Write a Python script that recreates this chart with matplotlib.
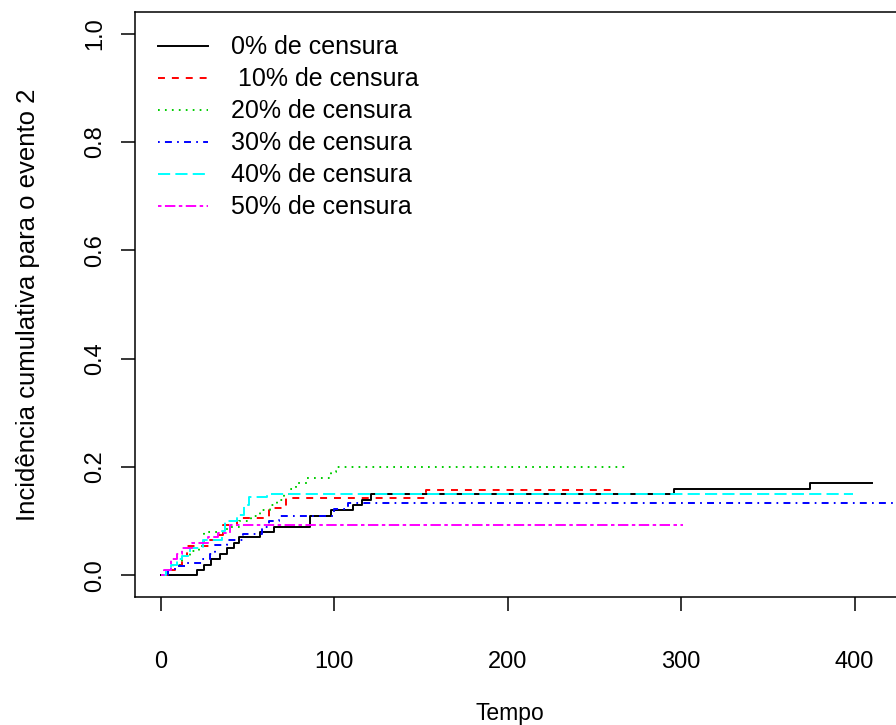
import matplotlib
matplotlib.use("Agg")
import matplotlib.pyplot as plt

plt.rcParams['font.family'] = ['Liberation Sans', 'DejaVu Sans']
plt.rcParams['lines.scale_dashes'] = False

# data (step functions: jump times and cumulative incidence after each jump)
labels = ["0% de censura", " 10% de censura", "20% de censura",
          "30% de censura", "40% de censura", "50% de censura"]
colors = ["#000000", "#FF0000", "#00CD00", "#0000FF", "#00FFFF", "#FF00FF"]

t0 = [21, 25, 29, 34, 38, 42, 45, 57, 65, 86, 98, 111, 116, 121, 296, 374]
y0 = [.01, .02, .03, .04, .05, .06, .07, .08, .09, .11, .12, .13, .14, .15, .16, .17]
end0 = 410

t10 = [4, 8, 12, 15, 28, 32, 36, 44, 62, 72, 153]
y10 = [.01, .02, .035, .054, .065, .075, .093, .106, .125, .143, .158]
end10 = 260

t20 = [3, 7, 12, 17, 22, 25, 38, 45, 52, 57, 63, 67, 71, 75, 78, 84, 98, 101]
y20 = [.01, .02, .035, .045, .055, .08, .09, .10, .11, .12, .13, .14, .15, .16, .17, .18, .19, .20]
end20 = 270

t30 = [4, 8, 14, 24, 28, 31, 38, 47, 58, 62, 68, 100, 108]
y30 = [.01, .017, .023, .03, .04, .056, .066, .077, .09, .10, .11, .122, .133]
end30 = 432

t40 = [3, 6, 9, 12, 17, 24, 35, 37, 44, 48, 51, 61]
y40 = [.01, .02, .03, .035, .05, .066, .081, .10, .112, .13, .144, .15]
end40 = 399

t50 = [2, 6, 9, 12, 18, 27, 33, 40]
y50 = [.01, .03, .04, .05, .06, .07, .079, .093]
end50 = 301

series = [(t0, y0, end0), (t10, y10, end10), (t20, y20, end20),
          (t30, y30, end30), (t40, y40, end40), (t50, y50, end50)]

u = 1.25  # R line-type unit in points
styles = ["-", (0, (4*u, 4*u)), (0, (1*u, 3*u)), (0, (1*u, 3*u, 4*u, 3*u)),
          (0, (7*u, 3*u)), (0, (2*u, 2*u, 6*u, 2*u))]

xticks = [0, 100, 200, 300, 400]
yticks = [0.0, 0.2, 0.4, 0.6, 0.8, 1.0]

fig = plt.figure(figsize=(8.96, 7.25), dpi=100)
ax = fig.add_axes([135/896, 128/725, 789/896, 585/725])

for (t, y, end), c, ls, lab in zip(series, colors, styles, labels):
    xs = [0] + list(t) + [end]
    ys = [0] + list(y) + [y[-1]]
    ax.step(xs, ys, where='post', color=c, linestyle=ls, linewidth=1.4, label=lab)

ax.set_xlim(-15, 440)
ax.set_ylim(-0.04, 1.04)
ax.set_xticks(xticks)
ax.set_xticklabels([str(v) for v in xticks])
ax.set_yticks(yticks)
ax.set_yticklabels([f"{v:.1f}" for v in yticks], rotation=90, va='center')
ax.tick_params(axis='both', direction='out', length=10, width=1.1, labelsize=17)
ax.tick_params(axis='x', pad=29)
ax.tick_params(axis='y', pad=10.5)
for s in ax.spines.values():
    s.set_linewidth(1.1)

ax.set_xlabel("Tempo", fontsize=16.5)
ax.xaxis.set_label_coords((510-135)/789, -(702-597)/585)
ax.set_ylabel("Incidência cumulativa para o evento 2", fontsize=18.5)
ax.yaxis.set_label_coords(-(135-40)/789, 0.5)

leg = ax.legend(loc='upper left', frameon=False, fontsize=18,
                handlelength=2.0, handletextpad=0.9, labelspacing=0.32,
                borderaxespad=0.48, borderpad=0.45, bbox_to_anchor=(0.0, 1.0))

fig.savefig("out.png", dpi=100)
